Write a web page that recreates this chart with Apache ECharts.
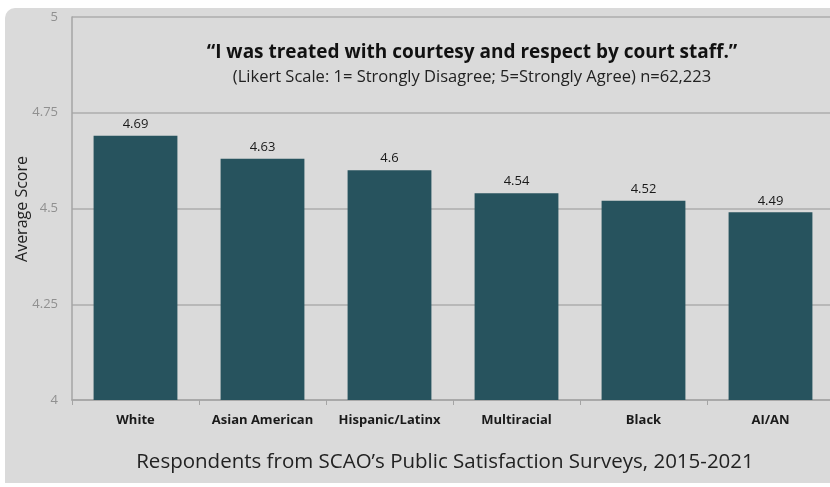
<!DOCTYPE html>
<html>
<head>
<meta charset="utf-8">
<script src="https://cdn.jsdelivr.net/npm/echarts@6/dist/echarts.min.js"></script>
<style>
  html, body { margin: 0; padding: 0; background: #ffffff; }
  #court-chart { width: 830px; height: 487px; }
</style>
</head>
<body>
<div id="court-chart"></div>
<script>
const categories = ['White', 'Asian American', 'Hispanic/Latinx', 'Multiracial', 'Black', 'AI/AN'];
const scores = [4.69, 4.63, 4.6, 4.54, 4.52, 4.49];
const yTicks = [4, 4.25, 4.5, 4.75, 5];

const chart = echarts.init(document.getElementById('court-chart'));

chart.setOption({
  animation: false,
  backgroundColor: '#ffffff',
  graphic: [
    {
      type: 'rect',
      z: -10,
      shape: { x: 5, y: 8, width: 840, height: 475, r: [10, 0, 0, 0] },
      style: { fill: '#dadada' },
    },
    {
      // y axis title, placed by hand so it sits closer to the tick labels
      type: 'text',
      x: 22,
      y: 209,
      rotation: Math.PI / 2,
      style: {
        text: 'Average Score',
        align: 'center',
        verticalAlign: 'middle',
        font: '16px "Open Sans", sans-serif',
        fill: '#222222',
      },
    },
  ],
  title: {
    text: '\u201cI was treated with courtesy and respect by court staff.\u201d',
    subtext: '(Likert Scale: 1= Strongly Disagree; 5=Strongly Agree) n=62,223',
    left: 467,
    top: 38,
    textAlign: 'center',
    itemGap: 7,
    textStyle: {
      fontFamily: '"Open Sans", sans-serif',
      fontSize: 19,
      fontWeight: 'bold',
      color: '#111111',
    },
    subtextStyle: {
      fontFamily: '"Open Sans", sans-serif',
      fontSize: 16.5,
      color: '#222222',
    },
  },
  grid: {
    left: 72,
    top: 17,
    width: 762,
    height: 383,
    outerBoundsMode: 'none',
  },
  xAxis: {
    type: 'category',
    data: categories,
    name: 'Respondents from SCAO\u2019s Public Satisfaction Surveys, 2015-2021',
    nameLocation: 'middle',
    nameGap: 52,
    nameTextStyle: {
      fontFamily: '"Open Sans", sans-serif',
      fontSize: 20.5,
      color: '#222222',
      padding: [0, 0, 0, -16],
    },
    axisLine: { lineStyle: { color: '#a4a4a4', width: 1.5 } },
    axisTick: { show: true, length: 5, lineStyle: { color: '#a4a4a4' } },
    axisLabel: {
      interval: 0,
      margin: 14,
      fontFamily: '"Open Sans", sans-serif',
      fontSize: 13,
      fontWeight: 'bold',
      color: '#1a1a1a',
    },
  },
  yAxis: {
    type: 'value',
    min: yTicks[0],
    max: yTicks[yTicks.length - 1],
    interval: 0.25,
    axisLine: { show: true, lineStyle: { color: '#a4a4a4', width: 1.5 } },
    axisTick: { show: false },
    splitLine: { lineStyle: { color: '#adadad', width: 1.5 } },
    axisLabel: {
      margin: 14,
      fontFamily: '"Open Sans", sans-serif',
      fontSize: 13,
      color: '#909090',
    },
  },
  series: [
    {
      type: 'bar',
      data: scores,
      barCategoryGap: '34%',
      itemStyle: { color: '#27535e' },
      label: {
        show: true,
        position: 'top',
        distance: 5,
        fontFamily: '"Open Sans", sans-serif',
        fontSize: 13,
        color: '#1a1a1a',
      },
    },
  ],
});
</script>
</body>
</html>
